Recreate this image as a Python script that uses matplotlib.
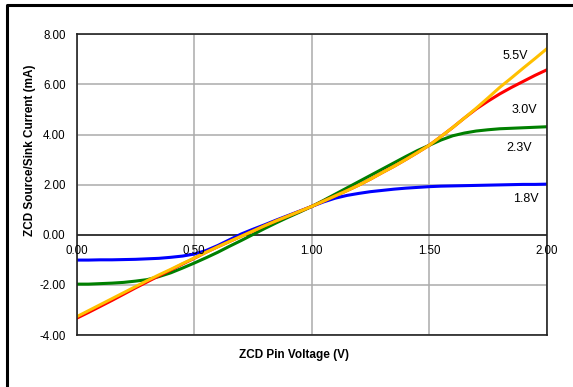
import matplotlib
matplotlib.use('Agg')
import matplotlib.pyplot as plt
from matplotlib.lines import Line2D

plt.rcParams['font.family'] = ['Liberation Sans', 'DejaVu Sans']

# Pin voltage (V), 0.00 .. 2.00 in 0.05 steps
volts = [0.00, 0.05, 0.10, 0.15, 0.20, 0.25, 0.30, 0.35, 0.40, 0.45,
         0.50, 0.55, 0.60, 0.65, 0.70, 0.75, 0.80, 0.85, 0.90, 0.95,
         1.00, 1.05, 1.10, 1.15, 1.20, 1.25, 1.30, 1.35, 1.40, 1.45,
         1.50, 1.55, 1.60, 1.65, 1.70, 1.75, 1.80, 1.85, 1.90, 1.95, 2.00]

# Source/sink current (mA) per supply voltage
i_18 = [-1.01, -1.01, -1.00, -1.00, -0.99, -0.98, -0.96, -0.94, -0.90, -0.85,
        -0.77, -0.63, -0.43, -0.20, 0.03, 0.22, 0.40, 0.59, 0.77, 0.95,
        1.13, 1.31, 1.46, 1.57, 1.65, 1.72, 1.77, 1.82, 1.86, 1.89,
        1.92, 1.94, 1.95, 1.96, 1.97, 1.98, 1.99, 2.00, 2.01, 2.01, 2.02]
i_23 = [-1.97, -1.97, -1.95, -1.93, -1.90, -1.85, -1.79, -1.67, -1.52, -1.33,
        -1.13, -0.92, -0.70, -0.46, -0.23, 0.01, 0.25, 0.48, 0.70, 0.91,
        1.13, 1.37, 1.62, 1.87, 2.12, 2.37, 2.62, 2.87, 3.12, 3.36,
        3.57, 3.78, 3.95, 4.06, 4.14, 4.19, 4.23, 4.25, 4.27, 4.29, 4.31]
i_30 = [-3.33, -3.10, -2.86, -2.62, -2.37, -2.12, -1.88, -1.64, -1.41, -1.17,
        -0.94, -0.70, -0.48, -0.27, -0.06, 0.15, 0.36, 0.56, 0.75, 0.94,
        1.13, 1.34, 1.55, 1.76, 1.98, 2.22, 2.48, 2.73, 3.00, 3.28,
        3.57, 3.92, 4.28, 4.66, 5.02, 5.33, 5.62, 5.88, 6.12, 6.36, 6.58]
i_55 = [-3.27, -3.03, -2.79, -2.55, -2.31, -2.07, -1.83, -1.60, -1.38, -1.15,
        -0.93, -0.70, -0.48, -0.27, -0.06, 0.15, 0.36, 0.56, 0.75, 0.94,
        1.13, 1.34, 1.55, 1.76, 1.98, 2.22, 2.48, 2.73, 3.00, 3.28,
        3.57, 3.92, 4.28, 4.66, 5.05, 5.46, 5.88, 6.26, 6.65, 7.03, 7.42]

x_ticks = [0.0, 0.5, 1.0, 1.5, 2.0]
x_tick_labels = ['0.00', '0.50', '1.00', '1.50', '2.00']
y_ticks = [-4, -2, 0, 2, 4, 6, 8]
y_tick_labels = ['-4.00', '-2.00', '0.00', '2.00', '4.00', '6.00', '8.00']

fig = plt.figure(figsize=(5.73, 3.87), dpi=100)
ax = fig.add_axes([76.7 / 573, 52 / 387, 470 / 573, 300.7 / 387])

ax.plot(volts, i_18, color='#0000FF', linewidth=2.2)
ax.plot(volts, i_23, color='#008000', linewidth=2.2)
ax.plot(volts, i_30, color='#FF0000', linewidth=2.2)
ax.plot(volts, i_55, color='#FFC000', linewidth=2.2)

ax.set_xlim(0, 2)
ax.set_ylim(-4, 8)
ax.set_xticks(x_ticks)
ax.set_xticklabels([])
ax.set_yticks(y_ticks)
ax.set_yticklabels(y_tick_labels, fontsize=8.3)
ax.tick_params(length=0, pad=8)
ax.grid(True, color='#ABABAB', linewidth=1.1)
ax.set_axisbelow(True)
ax.axhline(0, color='#222222', linewidth=1.2, zorder=1.5)
for s in ax.spines.values():
    s.set_linewidth(1.2)
    s.set_color('#222222')

# x tick labels sit on the zero line
for x, lbl in zip(x_ticks, x_tick_labels):
    ax.annotate(lbl, xy=(x, 0), xytext=(0, -13.7), textcoords='offset points',
                ha='center', va='baseline', fontsize=8.3, annotation_clip=False)

# series labels
ax.text(1.865, 7.14, '5.5V', ha='center', va='center', fontsize=9)
ax.text(1.904, 4.99, '3.0V', ha='center', va='center', fontsize=9)
ax.text(1.884, 3.47, '2.3V', ha='center', va='center', fontsize=9)
ax.text(1.913, 1.43, '1.8V', ha='center', va='center', fontsize=9)

fig.text(294 / 573, 1 - 355 / 387, 'ZCD Pin Voltage (V)', ha='center', va='center',
         fontsize=8.5, fontweight='bold')
fig.text(30 / 573, 1 - 150 / 387, 'ZCD Source/Sink Current (mA)', ha='center',
         va='center', rotation=90, fontsize=8.5, fontweight='bold')

# outer frame (left and top edges)
fig.add_artist(Line2D([7 / 573, 7 / 573, 1.0], [0.0, 1 - 5 / 387, 1 - 5 / 387],
                      transform=fig.transFigure, color='black', linewidth=2.2))

fig.savefig('out.png', dpi=100)
